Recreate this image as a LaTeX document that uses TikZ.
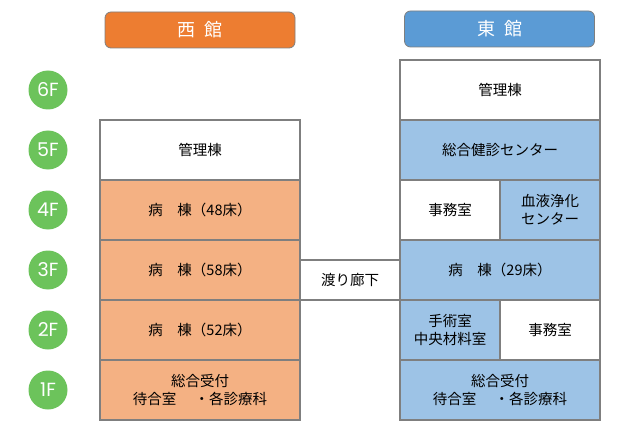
\documentclass[tikz,border=0pt]{standalone}
\usepackage{fontspec}
\setmainfont{Noto Sans CJK JP}
\newfontfamily\floorfont{Poppins}
\definecolor{westhead}{HTML}{ED7D31}
\definecolor{westroom}{HTML}{F4B183}
\definecolor{easthead}{HTML}{5B9BD5}
\definecolor{eastroom}{HTML}{9DC3E6}
\definecolor{floorgreen}{HTML}{6CC35B}
\definecolor{wallgray}{HTML}{7F7F7F}
\begin{document}
\begin{tikzpicture}[x=1pt, y=-1pt, font=\fontsize{14.5}{18}\selectfont,
    room/.style={draw=wallgray, line width=1.5pt, minimum width=200pt, minimum height=60pt, inner sep=0pt, align=center},
    halfroom/.style={room, minimum width=100pt},
    head/.style={draw=wallgray, line width=0.8pt, rounded corners=6pt, minimum width=190pt, minimum height=36pt, inner sep=0pt, text=white, font=\fontsize{18}{20}\selectfont},
    floorlabel/.style={circle, fill=floorgreen, minimum size=39pt, inner sep=0pt, text=white, font=\floorfont\fontsize{19}{20}\selectfont}]
    \useasboundingbox (0,0) rectangle (621,441);
    % headers
    \node[head, fill=westhead] (westhd) at (200,30) {西\hspace{0.5em}館};
    \node[head, fill=easthead] (easthd) at (499.5,29) {東\hspace{0.5em}館};
    % floor numbers
    \foreach \f/\y in {6/90,5/150,4/210,3/270,2/330,1/390}
        \node[floorlabel] (fl\f) at (48,\y) {\f F};
    % corridor
    \node[room, fill=white, minimum width=100pt, minimum height=40pt] (hall) at (350,280) {渡り廊下};
    % west building
    \node[room, fill=white] (w5) at (200,150) {管理棟};
    \node[room, fill=westroom] (w4) at (200,210) {病　棟（48床）};
    \node[room, fill=westroom] (w3) at (200,270) {病　棟（58床）};
    \node[room, fill=westroom] (w2) at (200,330) {病　棟（52床）};
    \node[room, fill=westroom] (w1) at (200,390) {総合受付\\待合室　\hspace{4pt}・各診療科};
    % east building
    \node[room, fill=white] (e6) at (500,90) {管理棟};
    \node[room, fill=eastroom] (e5) at (500,150) {総合健診センター};
    \node[halfroom, fill=white] (e4a) at (450,210) {事務室};
    \node[halfroom, fill=eastroom] (e4b) at (550,210) {血液浄化\\センター};
    \node[room, fill=eastroom] (e3) at (500,270) {病　棟（29床）};
    \node[halfroom, fill=eastroom] (e2a) at (450,330) {手術室\\中央材料室};
    \node[halfroom, fill=white] (e2b) at (550,330) {事務室};
    \node[room, fill=eastroom] (e1) at (500,390) {総合受付\\待合室　\hspace{4pt}・各診療科};
\end{tikzpicture}
\end{document}
